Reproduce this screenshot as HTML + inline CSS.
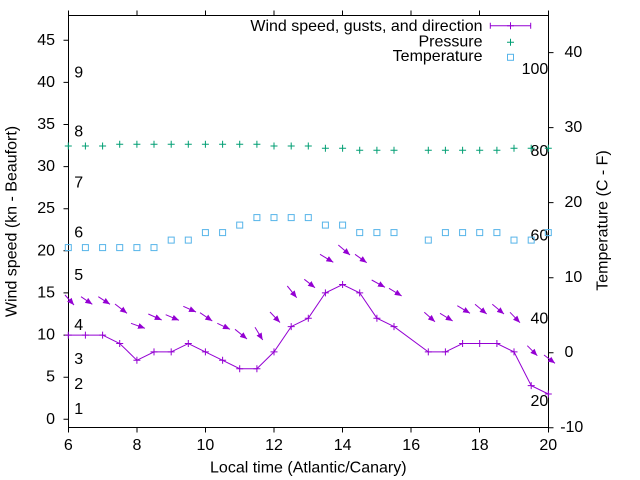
<!DOCTYPE html>
<html><head><meta charset="utf-8"><style>
html,body{margin:0;padding:0;background:#fff;}
svg{display:block;}
text{font-family:"Liberation Sans",Arial,sans-serif;font-size:16px;fill:#000;}
</style></head><body>
<svg width="640" height="480" viewBox="0 0 640 480" xmlns="http://www.w3.org/2000/svg">
<defs>
<path id="p" d="M-3.5,0h7M0,-3.5v7"/>
<rect id="sq" x="-3" y="-3" width="6" height="6" fill="none"/>
<marker id="ah" markerUnits="userSpaceOnUse" markerWidth="8" markerHeight="8" refX="7" refY="3.5" orient="auto" viewBox="0 0 8 8"><path d="M0,0.5 L7,3.5 L0,6.5 z" fill="#9400d3"/></marker>
</defs>
<rect width="640" height="480" fill="#fff"/>
<!-- frame -->
<rect x="68.5" y="15.5" width="480" height="412" fill="none" stroke="#000" stroke-width="1"/>
<!-- ticks -->
<g stroke="#000" stroke-width="1" fill="none">
<path d="M63.5,419.3h5M63.5,377.2h5M63.5,335.1h5M63.5,292.9h5M63.5,250.8h5M63.5,208.7h5M63.5,166.6h5M63.5,124.5h5M63.5,82.4h5M63.5,40.3h5"/>
<path d="M548.5,427.7h5M548.5,352.7h5M548.5,277.7h5M548.5,202.6h5M548.5,127.6h5M548.5,52.6h5"/>
<path d="M68.5,427.5v5M137,427.5v5M205.5,427.5v5M274,427.5v5M342.5,427.5v5M411,427.5v5M479.5,427.5v5M548.5,427.5v5"/>
<path d="M68.5,10.5v5M137,10.5v5M205.5,10.5v5M274,10.5v5M342.5,10.5v5M411,10.5v5M479.5,10.5v5M548.5,10.5v5"/>
</g>
<!-- left tick labels -->
<g text-anchor="end">
<text x="55" y="423.8">0</text>
<text x="55" y="381.7">5</text>
<text x="55" y="339.6">10</text>
<text x="55" y="297.4">15</text>
<text x="55" y="255.3">20</text>
<text x="55" y="213.2">25</text>
<text x="55" y="171.1">30</text>
<text x="55" y="129">35</text>
<text x="55" y="86.9">40</text>
<text x="55" y="44.8">45</text>
</g>
<!-- right tick labels -->
<text x="560.2" y="432.2">-10</text>
<text x="564.5" y="357.2">0</text>
<text x="564.5" y="282.2">10</text>
<text x="564.5" y="207.1">20</text>
<text x="564.5" y="132.1">30</text>
<text x="564.5" y="57.1">40</text>
<!-- bottom tick labels -->
<g text-anchor="middle">
<text x="68.3" y="450">6</text>
<text x="136.9" y="450">8</text>
<text x="205.4" y="450">10</text>
<text x="274" y="450">12</text>
<text x="342.6" y="450">14</text>
<text x="411.2" y="450">16</text>
<text x="479.7" y="450">18</text>
<text x="548.3" y="450">20</text>
<text x="308.3" y="472.3">Local time (Atlantic/Canary)</text>
<text transform="translate(16.5,221.5) rotate(-90)">Wind speed (kn - Beaufort)</text>
<text transform="translate(607.7,220.5) rotate(-90)">Temperature (C - F)</text>
</g>
<!-- Beaufort labels -->
<g>
<text x="74.3" y="77.3">9</text>
<text x="74.3" y="136.7">8</text>
<text x="74.3" y="187.3">7</text>
<text x="74.3" y="237.3">6</text>
<text x="74.3" y="280">5</text>
<text x="74.3" y="330">4</text>
<text x="74.3" y="364">3</text>
<text x="74.3" y="389">2</text>
<text x="74.3" y="414">1</text>
</g>
<!-- Fahrenheit labels -->
<g text-anchor="end">
<text x="548.3" y="74">100</text>
<text x="548.3" y="156">80</text>
<text x="548.3" y="240.5">60</text>
<text x="548.3" y="323.3">40</text>
<text x="548.3" y="406">20</text>
</g>
<!-- wind line -->
<g stroke="#9400d3" stroke-width="1" fill="none">
<polyline points="68.3,335.1 85.4,335.1 102.6,335.1 119.7,343.5 136.9,360.3 154.0,351.9 171.2,351.9 188.3,343.5 205.4,351.9 222.6,360.3 239.7,368.7 256.9,368.7 274.0,351.9 291.2,326.6 308.3,318.2 325.4,292.9 342.6,284.5 359.7,292.9 376.9,318.2 394.0,326.6 428.3,351.9 445.4,351.9 462.6,343.5 479.7,343.5 496.9,343.5 514.0,351.9 531.2,385.6 548.3,394.0"/>
<use href="#p" x="68.3" y="335.1"/><use href="#p" x="85.4" y="335.1"/><use href="#p" x="102.6" y="335.1"/><use href="#p" x="119.7" y="343.5"/><use href="#p" x="136.9" y="360.3"/><use href="#p" x="154.0" y="351.9"/><use href="#p" x="171.2" y="351.9"/><use href="#p" x="188.3" y="343.5"/><use href="#p" x="205.4" y="351.9"/><use href="#p" x="222.6" y="360.3"/><use href="#p" x="239.7" y="368.7"/><use href="#p" x="256.9" y="368.7"/><use href="#p" x="274.0" y="351.9"/><use href="#p" x="291.2" y="326.6"/><use href="#p" x="308.3" y="318.2"/><use href="#p" x="325.4" y="292.9"/><use href="#p" x="342.6" y="284.5"/><use href="#p" x="359.7" y="292.9"/><use href="#p" x="376.9" y="318.2"/><use href="#p" x="394.0" y="326.6"/><use href="#p" x="428.3" y="351.9"/><use href="#p" x="445.4" y="351.9"/><use href="#p" x="462.6" y="343.5"/><use href="#p" x="479.7" y="343.5"/><use href="#p" x="496.9" y="343.5"/><use href="#p" x="514.0" y="351.9"/><use href="#p" x="531.2" y="385.6"/><use href="#p" x="548.3" y="394.0"/>
</g>
<!-- direction arrows -->
<g stroke="#9400d3" stroke-width="1" fill="none" marker-end="url(#ah)">
<line x1="65" y1="295" x2="74" y2="305"/>
<line x1="81" y1="296.7" x2="92.3" y2="304.3"/>
<line x1="98.3" y1="296.7" x2="110" y2="304.3"/>
<line x1="115" y1="304" x2="127" y2="313.3"/>
<line x1="131" y1="323.3" x2="145" y2="328.3"/>
<line x1="148.3" y1="314" x2="161.7" y2="320"/>
<line x1="165.7" y1="314.7" x2="179" y2="320.3"/>
<line x1="183.3" y1="306.3" x2="196" y2="312"/>
<line x1="200" y1="312.7" x2="212.3" y2="321"/>
<line x1="217.3" y1="323.3" x2="230" y2="329.3"/>
<line x1="235" y1="329.3" x2="247" y2="339"/>
<line x1="255" y1="327.3" x2="262.7" y2="340"/>
<line x1="270" y1="312" x2="280" y2="322.5"/>
<line x1="287.3" y1="286" x2="296.7" y2="297.7"/>
<line x1="304.3" y1="279.3" x2="315" y2="287.7"/>
<line x1="320" y1="254.3" x2="333.3" y2="262.3"/>
<line x1="338.3" y1="245" x2="350" y2="255"/>
<line x1="355" y1="254.3" x2="366.7" y2="262.7"/>
<line x1="371.7" y1="280" x2="385" y2="287.3"/>
<line x1="389" y1="288.3" x2="401.7" y2="296"/>
<line x1="424.3" y1="312.3" x2="435" y2="321.7"/>
<line x1="440" y1="313.3" x2="452.7" y2="321"/>
<line x1="457.3" y1="305.7" x2="470" y2="313.3"/>
<line x1="475" y1="304.3" x2="486.7" y2="314"/>
<line x1="492.3" y1="304.3" x2="504" y2="314"/>
<line x1="510" y1="312.3" x2="520" y2="322.7"/>
<line x1="527.3" y1="345.7" x2="537.3" y2="355.7"/>
<line x1="544" y1="355" x2="555" y2="363.3"/>
</g>
<!-- pressure -->
<g stroke="#009e73" stroke-width="1" fill="none">
<use href="#p" x="68.3" y="146"/><use href="#p" x="85.4" y="146"/><use href="#p" x="102.6" y="146"/><use href="#p" x="119.7" y="144.3"/><use href="#p" x="136.9" y="144.3"/><use href="#p" x="154.0" y="144.3"/><use href="#p" x="171.2" y="144.3"/><use href="#p" x="188.3" y="144.3"/><use href="#p" x="205.4" y="144.3"/><use href="#p" x="222.6" y="144.3"/><use href="#p" x="239.7" y="144.3"/><use href="#p" x="256.9" y="144.3"/><use href="#p" x="274.0" y="146"/><use href="#p" x="291.2" y="146"/><use href="#p" x="308.3" y="146"/><use href="#p" x="325.4" y="148.3"/><use href="#p" x="342.6" y="148.3"/><use href="#p" x="359.7" y="150.3"/><use href="#p" x="376.9" y="150.3"/><use href="#p" x="394.0" y="150.3"/><use href="#p" x="428.3" y="150.3"/><use href="#p" x="445.4" y="150.3"/><use href="#p" x="462.6" y="150.3"/><use href="#p" x="479.7" y="150.3"/><use href="#p" x="496.9" y="150.3"/><use href="#p" x="514.0" y="148.3"/><use href="#p" x="531.2" y="148.3"/><use href="#p" x="548.3" y="148.3"/>
</g>
<!-- temperature -->
<g stroke="#56b4e9" stroke-width="1" fill="none">
<use href="#sq" x="68.3" y="247.6"/><use href="#sq" x="85.4" y="247.6"/><use href="#sq" x="102.6" y="247.6"/><use href="#sq" x="119.7" y="247.6"/><use href="#sq" x="136.9" y="247.6"/><use href="#sq" x="154.0" y="247.6"/><use href="#sq" x="171.2" y="240.1"/><use href="#sq" x="188.3" y="240.1"/><use href="#sq" x="205.4" y="232.6"/><use href="#sq" x="222.6" y="232.6"/><use href="#sq" x="239.7" y="225.1"/><use href="#sq" x="256.9" y="217.6"/><use href="#sq" x="274.0" y="217.6"/><use href="#sq" x="291.2" y="217.6"/><use href="#sq" x="308.3" y="217.6"/><use href="#sq" x="325.4" y="225.1"/><use href="#sq" x="342.6" y="225.1"/><use href="#sq" x="359.7" y="232.6"/><use href="#sq" x="376.9" y="232.6"/><use href="#sq" x="394.0" y="232.6"/><use href="#sq" x="428.3" y="240.1"/><use href="#sq" x="445.4" y="232.6"/><use href="#sq" x="462.6" y="232.6"/><use href="#sq" x="479.7" y="232.6"/><use href="#sq" x="496.9" y="232.6"/><use href="#sq" x="514.0" y="240.1"/><use href="#sq" x="531.2" y="240.1"/><use href="#sq" x="548.3" y="232.6"/>
</g>
<!-- legend -->
<g text-anchor="end">
<text x="482.5" y="30.8">Wind speed, gusts, and direction</text>
<text x="482.5" y="46.3">Pressure</text>
<text x="482.5" y="61">Temperature</text>
</g>
<g stroke="#9400d3" stroke-width="1" fill="none">
<path d="M490.3,25.7H530.7M490.3,22.7v6M530.7,22.7v6"/>
<use href="#p" x="510.5" y="25.7"/>
</g>
<g stroke="#009e73" stroke-width="1" fill="none"><use href="#p" x="510.5" y="42.3"/></g>
<g stroke="#56b4e9" stroke-width="1" fill="none"><use href="#sq" x="510.5" y="57.3"/></g>
</svg>
</body></html>
